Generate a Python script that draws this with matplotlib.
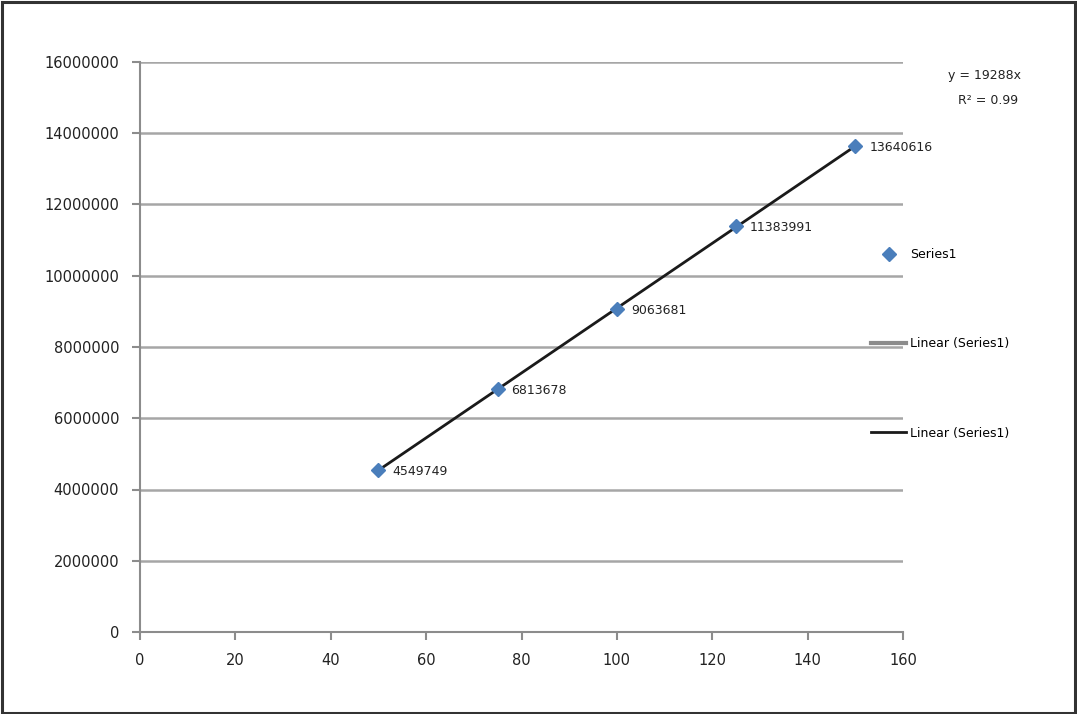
import matplotlib
matplotlib.use("Agg")
import matplotlib.pyplot as plt
import numpy as np
from matplotlib.lines import Line2D
from matplotlib.patches import Rectangle

x_vals = [50, 75, 100, 125, 150]
y_vals = [4549749, 6813678, 9063681, 11383991, 13640616]
point_labels = ["4549749", "6813678", "9063681", "11383991", "13640616"]
eq_text = "y = 19288x"
r2_text = "R² = 0.99"
x_ticks = [0, 20, 40, 60, 80, 100, 120, 140, 160]
y_ticks = [0, 2000000, 4000000, 6000000, 8000000, 10000000, 12000000, 14000000, 16000000]

fig = plt.figure(figsize=(10.77, 7.14), dpi=100)
fig.patches.append(Rectangle((0.002, 0.002), 0.996, 0.995, transform=fig.transFigure,
                             fill=False, edgecolor="#333333", linewidth=2.2))
ax = fig.add_axes([140/1077, 1-632/714, (903-140)/1077, (632-62)/714])

ax.set_xlim(0, 160)
ax.set_ylim(0, 16000000)
ax.set_xticks(x_ticks)
ax.set_yticks(y_ticks)
ax.set_xticklabels([str(t) for t in x_ticks])
ax.set_yticklabels([str(t) for t in y_ticks])
for s in ["top", "right"]:
    ax.spines[s].set_visible(False)
for s in ["left", "bottom"]:
    ax.spines[s].set_color("#8c8c8c")
    ax.spines[s].set_linewidth(1.5)
ax.tick_params(axis="both", colors="#8c8c8c", labelcolor="#222222", labelsize=10.5,
               length=6, width=1.5, direction="out")
ax.tick_params(axis="y", pad=9)
ax.tick_params(axis="x", pad=9)
ax.yaxis.grid(True, color="#a6a6a6", linewidth=1.8)
ax.set_axisbelow(True)

coef = np.polyfit(x_vals, y_vals, 1)
fx = np.array([min(x_vals), max(x_vals)])
ax.plot(fx, np.polyval(coef, fx), color="#1a1a1a", linewidth=2, zorder=3)
ax.plot(x_vals, y_vals, linestyle="none", marker="D", markersize=7,
        color="#4a7ebb", zorder=4)
for xv, yv, lab in zip(x_vals, y_vals, point_labels):
    ax.annotate(lab, (xv, yv), xytext=(10, -1), textcoords="offset points",
                fontsize=9, color="#222222", va="center")

fig.text(985/1077, 1-75/714, eq_text, fontsize=9, ha="center", va="center", color="#222222")
fig.text(988/1077, 1-100/714, r2_text, fontsize=9, ha="center", va="center", color="#222222")

handles = [
    Line2D([], [], linestyle="none", marker="D", markersize=7, color="#4a7ebb"),
    Line2D([], [], color="#8c8c8c", linewidth=3),
    Line2D([], [], color="#1a1a1a", linewidth=2),
]
labels = ["Series1", "Linear (Series1)", "Linear (Series1)"]
fig.legend(handles, labels, loc="upper left", bbox_to_anchor=(871/1077, 1-248/714),
           frameon=False, fontsize=9, labelspacing=6.1, handlelength=2.8,
           handletextpad=0.3, borderaxespad=0, borderpad=0)

fig.savefig("out.png", dpi=100)
